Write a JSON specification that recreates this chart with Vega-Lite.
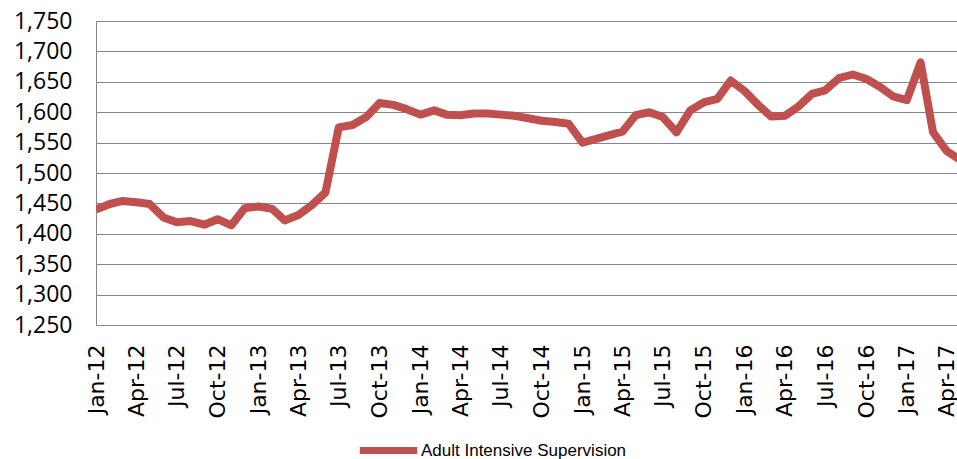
{
  "$schema": "https://vega.github.io/schema/vega-lite/v6.json",
  "autosize": "none",
  "width": 861,
  "height": 304,
  "padding": {"left": 96, "top": 21, "right": 0, "bottom": 134},
  "background": "white",
  "config": {"view": {"stroke": null}},
  "data": {"values": [
    {"month": "2012-01-01", "value": 1440},
    {"month": "2012-02-01", "value": 1449},
    {"month": "2012-03-01", "value": 1454},
    {"month": "2012-04-01", "value": 1452},
    {"month": "2012-05-01", "value": 1449},
    {"month": "2012-06-01", "value": 1427},
    {"month": "2012-07-01", "value": 1419},
    {"month": "2012-08-01", "value": 1421},
    {"month": "2012-09-01", "value": 1415},
    {"month": "2012-10-01", "value": 1424},
    {"month": "2012-11-01", "value": 1414},
    {"month": "2012-12-01", "value": 1442},
    {"month": "2013-01-01", "value": 1445},
    {"month": "2013-02-01", "value": 1441},
    {"month": "2013-03-01", "value": 1422},
    {"month": "2013-04-01", "value": 1431},
    {"month": "2013-05-01", "value": 1447},
    {"month": "2013-06-01", "value": 1468},
    {"month": "2013-07-01", "value": 1575},
    {"month": "2013-08-01", "value": 1579},
    {"month": "2013-09-01", "value": 1592},
    {"month": "2013-10-01", "value": 1615},
    {"month": "2013-11-01", "value": 1612},
    {"month": "2013-12-01", "value": 1605},
    {"month": "2014-01-01", "value": 1596},
    {"month": "2014-02-01", "value": 1603},
    {"month": "2014-03-01", "value": 1596},
    {"month": "2014-04-01", "value": 1595},
    {"month": "2014-05-01", "value": 1598},
    {"month": "2014-06-01", "value": 1598},
    {"month": "2014-07-01", "value": 1596},
    {"month": "2014-08-01", "value": 1594},
    {"month": "2014-09-01", "value": 1590},
    {"month": "2014-10-01", "value": 1586},
    {"month": "2014-11-01", "value": 1584},
    {"month": "2014-12-01", "value": 1581},
    {"month": "2015-01-01", "value": 1550},
    {"month": "2015-02-01", "value": 1556},
    {"month": "2015-03-01", "value": 1562},
    {"month": "2015-04-01", "value": 1568},
    {"month": "2015-05-01", "value": 1595},
    {"month": "2015-06-01", "value": 1600},
    {"month": "2015-07-01", "value": 1592},
    {"month": "2015-08-01", "value": 1567},
    {"month": "2015-09-01", "value": 1603},
    {"month": "2015-10-01", "value": 1616},
    {"month": "2015-11-01", "value": 1622},
    {"month": "2015-12-01", "value": 1652},
    {"month": "2016-01-01", "value": 1635},
    {"month": "2016-02-01", "value": 1612},
    {"month": "2016-03-01", "value": 1593},
    {"month": "2016-04-01", "value": 1594},
    {"month": "2016-05-01", "value": 1609},
    {"month": "2016-06-01", "value": 1630},
    {"month": "2016-07-01", "value": 1636},
    {"month": "2016-08-01", "value": 1656},
    {"month": "2016-09-01", "value": 1662},
    {"month": "2016-10-01", "value": 1655},
    {"month": "2016-11-01", "value": 1642},
    {"month": "2016-12-01", "value": 1626},
    {"month": "2017-01-01", "value": 1620},
    {"month": "2017-02-01", "value": 1682},
    {"month": "2017-03-01", "value": 1567},
    {"month": "2017-04-01", "value": 1536},
    {"month": "2017-05-01", "value": 1522}
  ]},
  "mark": {"type": "line", "strokeWidth": 8, "strokeJoin": "round", "strokeCap": "butt", "clip": true},
  "encoding": {
    "x": {
      "field": "month",
      "type": "temporal",
      "scale": {"type": "utc", "domain": [{"year": 2012, "month": 1, "date": 1, "utc": true}, {"year": 2017, "month": 4, "date": 24, "utc": true}], "nice": false},
      "axis": {
        "title": null,
        "format": "%b-%y",
        "values": [
          {"year": 2012, "month": 1, "date": 1, "utc": true}, {"year": 2012, "month": 4, "date": 1, "utc": true}, {"year": 2012, "month": 7, "date": 1, "utc": true}, {"year": 2012, "month": 10, "date": 1, "utc": true},
          {"year": 2013, "month": 1, "date": 1, "utc": true}, {"year": 2013, "month": 4, "date": 1, "utc": true}, {"year": 2013, "month": 7, "date": 1, "utc": true}, {"year": 2013, "month": 10, "date": 1, "utc": true},
          {"year": 2014, "month": 1, "date": 1, "utc": true}, {"year": 2014, "month": 4, "date": 1, "utc": true}, {"year": 2014, "month": 7, "date": 1, "utc": true}, {"year": 2014, "month": 10, "date": 1, "utc": true},
          {"year": 2015, "month": 1, "date": 1, "utc": true}, {"year": 2015, "month": 4, "date": 1, "utc": true}, {"year": 2015, "month": 7, "date": 1, "utc": true}, {"year": 2015, "month": 10, "date": 1, "utc": true},
          {"year": 2016, "month": 1, "date": 1, "utc": true}, {"year": 2016, "month": 4, "date": 1, "utc": true}, {"year": 2016, "month": 7, "date": 1, "utc": true}, {"year": 2016, "month": 10, "date": 1, "utc": true},
          {"year": 2017, "month": 1, "date": 1, "utc": true}, {"year": 2017, "month": 4, "date": 1, "utc": true}
        ],
        "labelAngle": 270,
        "labelAlign": "right",
        "labelBaseline": "middle",
        "labelFont": "DejaVu Sans",
        "labelFontSize": 22,
        "labelColor": "#000000",
        "labelPadding": 19,
        "labelOverlap": false,
        "labelFlush": false,
        "ticks": false,
        "grid": false,
        "domainColor": "#868686",
        "domainWidth": 1
      }
    },
    "y": {
      "field": "value",
      "type": "quantitative",
      "scale": {"domain": [1250, 1750], "nice": false, "zero": false},
      "axis": {
        "title": null,
        "values": [1250, 1300, 1350, 1400, 1450, 1500, 1550, 1600, 1650, 1700, 1750],
        "format": ",d",
        "labelFont": "Open Sans",
        "labelFontSize": 23,
        "labelColor": "#000000",
        "labelPadding": 24,
        "ticks": false,
        "grid": true,
        "gridColor": "#868686",
        "gridWidth": 1,
        "domainColor": "#868686",
        "domainWidth": 1
      }
    },
    "color": {
      "datum": "Adult Intensive Supervision",
      "scale": {"range": ["#C0504D"]},
      "legend": {
        "title": null,
        "orient": "none",
        "legendX": 260,
        "legendY": 397,
        "padding": 0,
        "symbolType": "stroke",
        "symbolSize": 3300,
        "symbolStrokeWidth": 7,
        "labelFont": "Liberation Sans",
        "labelFontSize": 17,
        "labelLimit": 400,
        "labelColor": "#000000",
        "labelOffset": 0
      }
    }
  }
}
